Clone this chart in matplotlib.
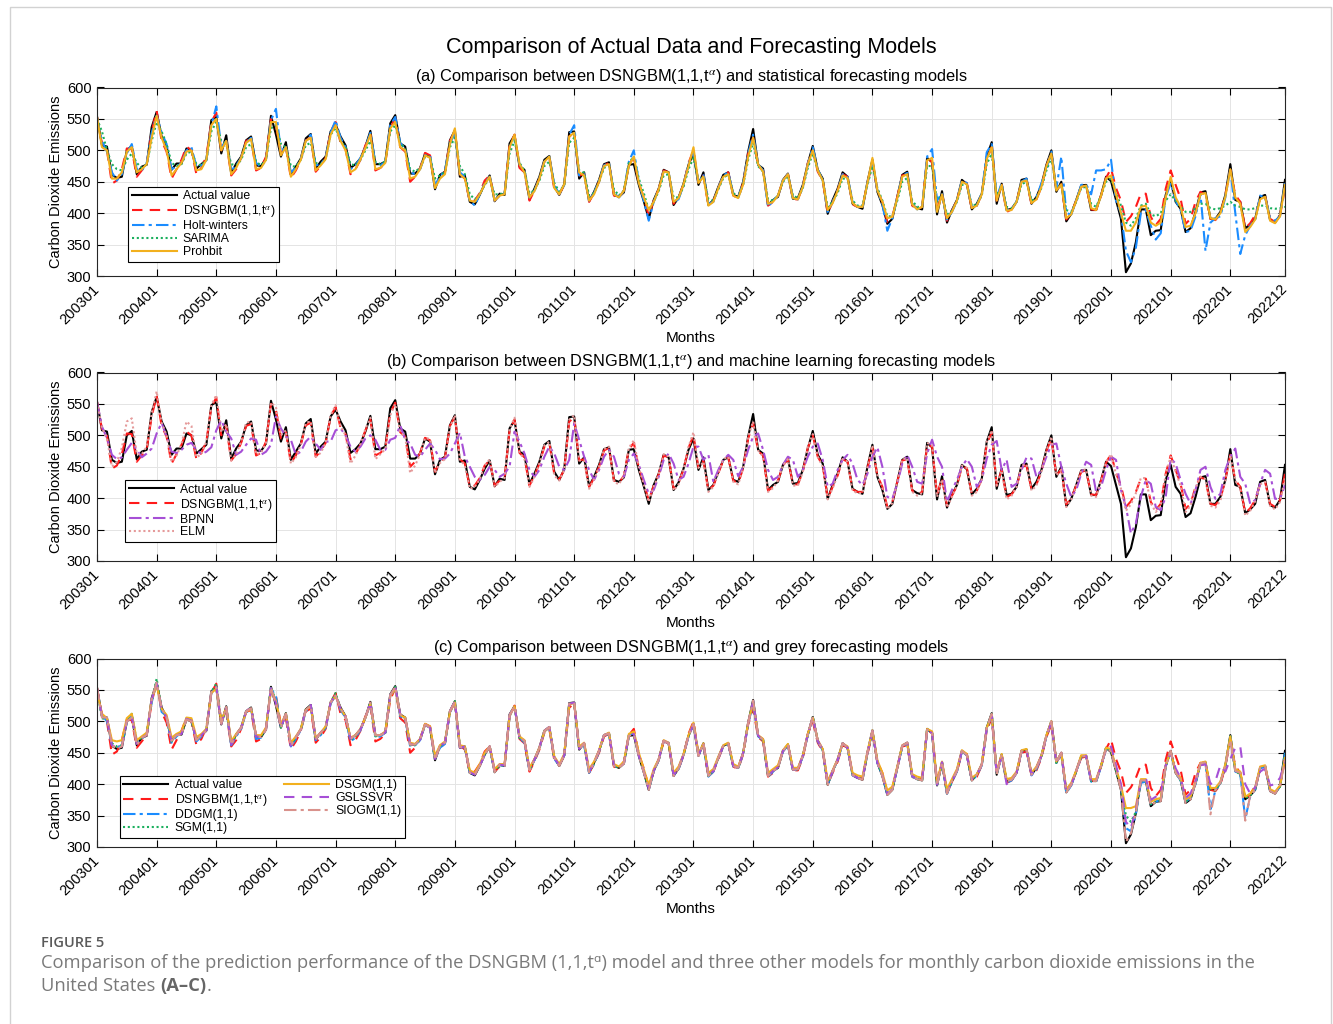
import matplotlib
matplotlib.use("Agg")
import matplotlib.pyplot as plt
from matplotlib.patches import Rectangle
import numpy as np

plt.rcParams['font.family'] = ['Liberation Sans', 'DejaVu Sans']
plt.rcParams['mathtext.fontset'] = 'stix'

# ---------------------------------------------------------------
# monthly CO2 emissions 2003-01 .. 2022-12 (one row per year)

actual = [
    554, 508, 506, 461, 456, 458, 500, 507, 462, 474, 477, 537,
    561, 522, 506, 469, 479, 479, 503, 500, 471, 478, 485, 548,
    553, 495, 524, 463, 479, 490, 516, 522, 476, 475, 487, 555,
    525, 490, 513, 461, 474, 487, 519, 526, 471, 482, 490, 530,
    541, 522, 508, 472, 478, 487, 506, 531, 478, 478, 482, 543,
    556, 511, 506, 463, 463, 471, 495, 490, 438, 461, 466, 516,
    532, 458, 460, 418, 414, 429, 447, 460, 419, 431, 429, 511,
    524, 474, 469, 422, 439, 458, 485, 491, 442, 429, 446, 529,
    530, 455, 465, 419, 434, 453, 478, 481, 429, 426, 433, 477,
    478, 445, 419, 391, 421, 439, 469, 465, 413, 425, 447, 477,
    495, 445, 465, 413, 421, 442, 461, 465, 429, 426, 450, 498,
    534, 477, 471, 413, 421, 426, 453, 463, 423, 424, 445, 479,
    507, 469, 455, 399, 421, 439, 465, 458, 415, 410, 407, 450,
    485, 434, 413, 383, 391, 426, 461, 466, 413, 408, 406, 488,
    481, 398, 435, 385, 405, 421, 453, 446, 406, 415, 431, 490,
    513, 415, 447, 405, 407, 418, 453, 455, 415, 426, 445, 477,
    500, 434, 450, 387, 399, 421, 444, 445, 405, 405, 429, 458,
    451, 421, 391, 306, 320, 354, 406, 406, 365, 372, 373, 429,
    453, 418, 407, 370, 376, 402, 433, 435, 391, 391, 402, 429,
    478, 421, 418, 376, 382, 391, 426, 429, 389, 385, 397, 453,
]

dsngbm = [
    553, 510, 500, 447, 452, 470, 503, 502, 458, 468, 478, 530,
    563, 515, 498, 455, 470, 485, 506, 500, 462, 472, 490, 545,
    560, 500, 515, 460, 470, 488, 515, 518, 468, 472, 490, 550,
    540, 495, 505, 456, 468, 485, 516, 520, 466, 475, 488, 530,
    545, 512, 502, 462, 470, 485, 508, 525, 468, 472, 480, 535,
    552, 505, 498, 450, 458, 472, 496, 492, 442, 458, 465, 515,
    530, 462, 455, 418, 420, 432, 452, 460, 420, 428, 432, 508,
    525, 472, 465, 420, 436, 455, 482, 488, 438, 430, 445, 522,
    528, 460, 462, 418, 432, 450, 476, 480, 428, 424, 436, 478,
    488, 448, 425, 396, 420, 438, 468, 465, 415, 424, 446, 480,
    500, 448, 460, 412, 420, 440, 460, 465, 428, 424, 448, 495,
    520, 475, 468, 412, 418, 428, 452, 462, 422, 422, 442, 480,
    500, 466, 452, 400, 418, 436, 462, 458, 414, 410, 410, 448,
    480, 436, 418, 386, 394, 426, 460, 462, 412, 406, 410, 486,
    482, 405, 432, 388, 404, 420, 450, 448, 406, 412, 430, 486,
    505, 420, 445, 402, 406, 418, 450, 452, 414, 422, 442, 475,
    495, 436, 446, 390, 400, 420, 442, 444, 406, 405, 428, 456,
    471, 440, 420, 386, 395, 410, 431, 431, 394, 381, 391, 439,
    468, 445, 423, 383, 391, 418, 434, 429, 391, 389, 399, 429,
    469, 429, 418, 376, 384, 397, 423, 426, 391, 386, 397, 439,
]

# (a) statistical models
holt_winters = [
    550, 515, 498, 465, 452, 462, 495, 510, 470, 468, 480, 528,
    555, 528, 510, 470, 474, 480, 500, 505, 474, 476, 484, 540,
    570, 505, 515, 468, 476, 488, 512, 520, 480, 474, 484, 548,
    566, 498, 505, 465, 472, 486, 515, 525, 476, 478, 488, 528,
    548, 520, 505, 470, 476, 488, 505, 528, 480, 476, 482, 540,
    553, 512, 502, 465, 462, 470, 492, 492, 445, 458, 468, 510,
    528, 465, 458, 420, 412, 430, 448, 458, 420, 428, 432, 505,
    522, 478, 466, 425, 436, 455, 482, 490, 445, 430, 445, 525,
    540, 460, 462, 420, 432, 452, 476, 480, 432, 425, 435, 482,
    500, 450, 420, 388, 418, 438, 466, 465, 418, 422, 445, 478,
    498, 448, 462, 415, 418, 440, 460, 465, 430, 425, 448, 495,
    525, 478, 468, 410, 420, 428, 452, 462, 425, 422, 442, 478,
    505, 470, 452, 402, 418, 436, 462, 458, 418, 410, 410, 448,
    482, 436, 415, 372, 392, 424, 460, 464, 415, 406, 410, 490,
    502, 420, 432, 390, 402, 420, 452, 448, 410, 412, 432, 497,
    510, 425, 448, 405, 406, 418, 450, 455, 418, 425, 448, 470,
    498, 440, 490, 400, 398, 420, 445, 446, 430, 468, 468, 470,
    485, 420, 400, 340, 322, 345, 400, 405, 380, 358, 368, 425,
    448, 420, 405, 370, 372, 395, 430, 340, 385, 392, 395, 425,
    470, 400, 335, 365, 380, 390, 428, 425, 392, 388, 395, 448,
]

sarima = [
    550, 530, 500, 478, 470, 468, 485, 495, 480, 472, 478, 515,
    545, 530, 510, 480, 475, 478, 495, 498, 478, 476, 485, 530,
    545, 515, 510, 478, 476, 485, 505, 510, 482, 476, 485, 535,
    540, 510, 505, 475, 474, 485, 508, 512, 480, 478, 486, 525,
    535, 515, 505, 478, 476, 485, 500, 515, 482, 478, 482, 530,
    540, 512, 502, 470, 466, 472, 490, 490, 455, 460, 465, 505,
    520, 475, 462, 430, 422, 430, 445, 455, 430, 430, 432, 495,
    515, 480, 468, 432, 436, 452, 475, 482, 448, 434, 445, 512,
    520, 468, 464, 428, 432, 450, 472, 476, 438, 428, 436, 480,
    490, 455, 432, 405, 418, 435, 460, 462, 425, 425, 442, 470,
    488, 452, 458, 422, 420, 438, 456, 462, 432, 426, 445, 485,
    512, 475, 466, 422, 420, 428, 450, 458, 428, 424, 440, 472,
    495, 468, 452, 410, 418, 432, 455, 455, 420, 412, 412, 445,
    475, 440, 420, 395, 395, 420, 450, 456, 420, 410, 410, 475,
    475, 418, 428, 398, 404, 418, 445, 445, 412, 414, 428, 478,
    495, 428, 442, 410, 408, 418, 446, 450, 420, 424, 440, 468,
    488, 440, 445, 405, 402, 418, 440, 442, 415, 410, 428, 450,
    455, 432, 412, 385, 380, 392, 412, 415, 398, 395, 400, 420,
    430, 420, 410, 402, 402, 408, 415, 415, 408, 406, 408, 412,
    418, 412, 410, 406, 406, 408, 412, 412, 408, 407, 408, 410,
]

prohbit = [
    553, 505, 500, 455, 455, 465, 498, 505, 465, 470, 478, 520,
    555, 520, 500, 460, 470, 480, 498, 500, 468, 470, 485, 540,
    550, 500, 515, 462, 472, 488, 512, 518, 470, 472, 485, 545,
    545, 492, 505, 458, 470, 485, 515, 520, 468, 476, 486, 525,
    540, 515, 500, 465, 470, 486, 504, 525, 470, 472, 480, 535,
    545, 505, 500, 455, 458, 470, 492, 488, 440, 455, 462, 510,
    535, 462, 455, 420, 418, 430, 446, 458, 420, 428, 430, 505,
    525, 478, 465, 425, 435, 455, 482, 490, 440, 430, 446, 522,
    528, 465, 460, 420, 430, 450, 475, 478, 430, 425, 436, 475,
    490, 448, 425, 405, 418, 438, 466, 465, 418, 424, 446, 475,
    505, 448, 458, 412, 418, 440, 458, 462, 428, 424, 446, 490,
    520, 478, 466, 415, 418, 428, 452, 462, 424, 422, 442, 478,
    500, 468, 452, 405, 416, 436, 460, 456, 416, 410, 410, 448,
    488, 436, 418, 392, 394, 424, 458, 462, 414, 406, 410, 484,
    488, 402, 430, 392, 402, 420, 450, 446, 408, 412, 430, 486,
    505, 420, 445, 404, 405, 418, 450, 452, 416, 422, 442, 475,
    495, 436, 446, 392, 398, 420, 442, 444, 408, 405, 428, 455,
    460, 430, 400, 372, 372, 385, 410, 412, 385, 380, 385, 425,
    458, 425, 410, 378, 380, 400, 430, 432, 392, 390, 400, 426,
    470, 425, 415, 370, 378, 390, 422, 426, 388, 384, 395, 445,
]

# (b) machine learning models
bpnn = [
    553, 514, 495, 469, 462, 465, 477, 488, 477, 465, 471, 479,
    503, 520, 498, 474, 472, 477, 485, 488, 477, 470, 474, 481,
    508, 524, 506, 495, 469, 474, 485, 495, 493, 469, 474, 485,
    530, 511, 498, 493, 469, 474, 490, 498, 487, 477, 490, 490,
    508, 511, 500, 482, 474, 482, 495, 500, 493, 477, 477, 493,
    496, 516, 493, 487, 469, 466, 477, 487, 477, 462, 463, 471,
    487, 504, 466, 450, 434, 429, 437, 450, 445, 434, 439, 450,
    506, 490, 471, 445, 434, 445, 466, 482, 471, 450, 445, 461,
    519, 493, 466, 445, 429, 445, 466, 477, 466, 439, 434, 461,
    471, 453, 429, 407, 413, 434, 461, 471, 455, 429, 434, 455,
    482, 482, 461, 469, 426, 445, 461, 469, 461, 435, 450, 477,
    498, 503, 477, 445, 429, 434, 453, 466, 461, 434, 445, 466,
    482, 487, 461, 418, 423, 445, 461, 469, 455, 429, 421, 439,
    466, 481, 450, 402, 399, 423, 455, 469, 450, 426, 423, 471,
    493, 466, 450, 394, 413, 429, 450, 462, 450, 418, 429, 463,
    485, 491, 445, 461, 418, 423, 445, 465, 463, 434, 445, 466,
    485, 487, 450, 423, 402, 413, 439, 458, 453, 410, 418, 445,
    466, 461, 413, 386, 344, 360, 402, 429, 423, 386, 381, 402,
    463, 455, 429, 407, 391, 413, 445, 450, 418, 399, 407, 445,
    466, 479, 434, 423, 391, 397, 423, 445, 439, 399, 399, 421,
]

elm = [
    553, 512, 495, 450, 458, 480, 522, 527, 470, 470, 482, 535,
    570, 520, 500, 458, 468, 486, 522, 515, 465, 470, 490, 548,
    564, 505, 518, 460, 470, 490, 520, 522, 470, 472, 488, 552,
    545, 500, 508, 455, 465, 485, 520, 522, 466, 472, 488, 532,
    548, 515, 500, 455, 468, 486, 510, 528, 462, 470, 478, 532,
    550, 505, 498, 440, 452, 470, 496, 494, 440, 456, 462, 512,
    532, 462, 452, 415, 418, 430, 452, 462, 418, 426, 432, 510,
    528, 472, 462, 418, 434, 455, 484, 490, 436, 428, 445, 525,
    532, 460, 460, 415, 430, 450, 478, 482, 426, 422, 436, 480,
    492, 448, 422, 394, 418, 438, 470, 466, 412, 422, 446, 482,
    505, 448, 458, 410, 418, 440, 462, 466, 426, 422, 448, 498,
    522, 476, 466, 410, 416, 428, 452, 462, 420, 420, 442, 482,
    502, 466, 450, 398, 416, 436, 462, 458, 412, 408, 408, 450,
    484, 436, 416, 382, 392, 426, 462, 464, 410, 404, 408, 488,
    484, 402, 430, 385, 402, 420, 452, 448, 404, 410, 430, 490,
    508, 420, 444, 398, 404, 418, 452, 454, 412, 420, 442, 476,
    498, 436, 445, 386, 398, 420, 444, 446, 404, 402, 428, 458,
    470, 438, 415, 380, 390, 408, 432, 432, 392, 378, 388, 438,
    466, 442, 420, 378, 388, 416, 434, 430, 388, 385, 396, 428,
    468, 428, 415, 372, 380, 395, 422, 426, 388, 382, 394, 432,
]

# (c) grey models
ddgm = [
    550, 510, 500, 462, 458, 462, 498, 510, 466, 472, 480, 530,
    562, 515, 508, 466, 476, 482, 505, 502, 468, 476, 488, 545,
    555, 500, 520, 462, 476, 488, 514, 520, 472, 474, 488, 552,
    540, 492, 510, 460, 472, 486, 516, 524, 470, 478, 490, 528,
    542, 518, 506, 468, 474, 486, 506, 528, 474, 476, 482, 540,
    552, 508, 504, 460, 462, 470, 494, 490, 440, 458, 464, 514,
    530, 460, 458, 418, 416, 430, 448, 458, 420, 430, 430, 508,
    524, 474, 466, 422, 438, 456, 484, 490, 440, 430, 446, 526,
    530, 458, 462, 418, 432, 452, 478, 480, 430, 426, 434, 478,
    482, 446, 420, 392, 420, 438, 468, 466, 414, 424, 446, 476,
    496, 446, 462, 412, 420, 442, 460, 465, 428, 426, 448, 496,
    528, 476, 470, 412, 420, 428, 452, 462, 422, 424, 444, 478,
    506, 468, 454, 400, 420, 438, 464, 458, 414, 410, 408, 450,
    486, 434, 414, 384, 392, 425, 460, 465, 412, 408, 408, 486,
    482, 400, 434, 385, 404, 420, 452, 446, 406, 414, 430, 488,
    510, 416, 446, 402, 406, 418, 452, 454, 414, 424, 444, 476,
    498, 434, 448, 386, 398, 420, 444, 444, 404, 404, 428, 456,
    455, 424, 395, 330, 325, 352, 402, 404, 368, 372, 375, 428,
    452, 418, 406, 372, 378, 400, 432, 434, 360, 390, 402, 430,
    476, 420, 416, 345, 380, 392, 425, 428, 390, 386, 396, 450,
]

sgm = [
    550, 505, 502, 465, 460, 462, 500, 512, 468, 474, 480, 533,
    568, 520, 505, 468, 478, 480, 504, 502, 470, 478, 486, 547,
    560, 498, 522, 464, 478, 490, 516, 522, 476, 476, 488, 555,
    532, 490, 512, 462, 474, 488, 518, 526, 472, 480, 490, 530,
    545, 520, 508, 470, 476, 488, 506, 530, 476, 478, 482, 542,
    555, 510, 505, 462, 462, 472, 495, 490, 440, 460, 466, 516,
    532, 460, 460, 418, 416, 430, 448, 460, 420, 430, 430, 510,
    524, 474, 468, 422, 438, 458, 485, 490, 442, 430, 446, 528,
    530, 456, 464, 419, 433, 452, 478, 481, 430, 426, 433, 478,
    480, 446, 420, 392, 421, 439, 469, 465, 414, 425, 447, 477,
    496, 446, 464, 413, 421, 442, 461, 465, 429, 426, 450, 498,
    532, 477, 470, 413, 421, 427, 453, 463, 423, 424, 445, 479,
    507, 469, 455, 400, 421, 439, 465, 458, 415, 410, 408, 450,
    485, 434, 414, 384, 392, 426, 461, 466, 413, 408, 406, 488,
    482, 399, 435, 386, 405, 421, 453, 446, 406, 415, 431, 490,
    512, 416, 447, 405, 407, 418, 453, 455, 415, 426, 445, 477,
    500, 434, 450, 388, 399, 421, 444, 445, 405, 405, 429, 458,
    453, 422, 393, 350, 340, 356, 404, 406, 368, 372, 375, 428,
    452, 418, 406, 372, 378, 402, 432, 434, 392, 390, 402, 430,
    476, 420, 416, 378, 382, 392, 426, 428, 390, 386, 396, 448,
]

dsgm = [
    548, 512, 505, 470, 468, 470, 505, 512, 470, 476, 482, 535,
    558, 520, 510, 474, 480, 484, 506, 505, 475, 480, 488, 545,
    552, 500, 522, 468, 480, 490, 515, 520, 478, 478, 490, 550,
    532, 495, 512, 466, 476, 488, 518, 524, 474, 482, 492, 530,
    540, 520, 508, 474, 478, 488, 506, 528, 478, 478, 484, 540,
    552, 510, 506, 466, 464, 472, 496, 492, 445, 462, 468, 515,
    530, 462, 460, 422, 418, 432, 450, 460, 424, 432, 432, 508,
    524, 476, 470, 426, 440, 458, 484, 490, 444, 432, 448, 526,
    530, 460, 466, 424, 436, 454, 478, 482, 432, 428, 436, 480,
    484, 450, 424, 398, 424, 440, 470, 466, 418, 428, 448, 478,
    498, 448, 465, 418, 424, 444, 462, 466, 432, 428, 450, 498,
    530, 478, 472, 418, 424, 430, 454, 464, 426, 426, 446, 480,
    506, 470, 456, 405, 422, 440, 465, 460, 418, 414, 412, 452,
    486, 438, 418, 390, 396, 428, 462, 466, 416, 412, 410, 488,
    484, 404, 436, 392, 408, 424, 454, 448, 410, 416, 432, 490,
    510, 420, 448, 408, 410, 420, 454, 456, 418, 428, 446, 478,
    500, 436, 450, 392, 402, 422, 446, 446, 408, 408, 430, 458,
    456, 426, 398, 362, 362, 365, 408, 408, 372, 376, 378, 430,
    452, 420, 410, 376, 380, 404, 434, 436, 394, 394, 404, 432,
    476, 424, 420, 380, 385, 395, 428, 430, 392, 388, 398, 442,
]

gslssvr = [
    552, 508, 505, 462, 458, 460, 500, 508, 464, 474, 478, 535,
    560, 520, 506, 468, 478, 480, 504, 501, 470, 478, 486, 546,
    555, 496, 522, 463, 478, 490, 516, 522, 476, 475, 487, 553,
    528, 490, 512, 461, 474, 487, 519, 526, 472, 482, 490, 530,
    541, 520, 508, 472, 478, 487, 506, 530, 478, 478, 482, 542,
    555, 511, 506, 463, 464, 471, 495, 490, 440, 461, 466, 516,
    532, 458, 460, 419, 415, 429, 447, 460, 420, 431, 430, 510,
    524, 474, 469, 423, 439, 458, 485, 491, 442, 430, 446, 528,
    530, 456, 465, 420, 434, 453, 478, 481, 430, 426, 433, 478,
    480, 445, 420, 392, 421, 439, 469, 465, 414, 425, 447, 477,
    495, 446, 465, 414, 421, 442, 461, 465, 429, 426, 450, 497,
    532, 477, 471, 414, 421, 427, 453, 463, 423, 424, 445, 479,
    507, 469, 455, 400, 421, 439, 465, 458, 415, 410, 408, 450,
    485, 434, 414, 384, 392, 426, 461, 466, 413, 408, 407, 487,
    481, 399, 435, 386, 405, 421, 453, 446, 407, 415, 431, 489,
    510, 416, 447, 400, 407, 418, 453, 455, 415, 426, 445, 477,
    498, 434, 450, 388, 399, 421, 444, 445, 405, 406, 429, 456,
    460, 430, 400, 340, 330, 360, 405, 410, 375, 380, 385, 430,
    450, 425, 410, 378, 385, 405, 430, 432, 400, 405, 430, 420,
    440, 458, 460, 400, 385, 395, 420, 425, 398, 400, 410, 435,
]

siogm = [
    554, 506, 506, 462, 456, 460, 500, 506, 462, 474, 478, 535,
    562, 520, 506, 469, 478, 479, 503, 500, 470, 478, 485, 547,
    554, 496, 523, 463, 478, 490, 516, 521, 476, 475, 487, 554,
    527, 490, 512, 461, 474, 487, 518, 525, 471, 482, 490, 530,
    541, 521, 508, 472, 478, 487, 506, 530, 478, 478, 482, 542,
    555, 511, 506, 463, 463, 471, 495, 490, 439, 461, 466, 516,
    531, 459, 460, 418, 415, 429, 447, 460, 419, 431, 429, 510,
    524, 474, 469, 422, 439, 458, 485, 491, 442, 429, 446, 528,
    530, 456, 465, 419, 434, 453, 478, 481, 429, 426, 433, 477,
    479, 445, 419, 391, 421, 439, 469, 465, 413, 425, 447, 477,
    495, 445, 465, 413, 421, 442, 461, 465, 429, 426, 450, 497,
    533, 477, 471, 413, 421, 426, 453, 463, 423, 424, 445, 479,
    507, 469, 455, 399, 421, 439, 465, 458, 415, 410, 407, 450,
    485, 434, 413, 383, 391, 426, 461, 466, 413, 408, 406, 487,
    481, 398, 435, 385, 405, 421, 453, 446, 406, 415, 431, 489,
    512, 415, 447, 405, 407, 418, 453, 455, 415, 426, 445, 477,
    500, 434, 450, 387, 399, 421, 444, 445, 405, 405, 429, 457,
    452, 421, 391, 308, 322, 354, 406, 406, 366, 372, 373, 429,
    453, 418, 407, 370, 376, 402, 433, 435, 352, 391, 402, 429,
    470, 421, 418, 342, 382, 391, 426, 429, 389, 385, 397, 440,
]

tick_pos = list(range(0, 240, 12)) + [239]
tick_labels = ['%d01' % y for y in range(2003, 2023)] + ['202212']

alpha_txt = r'DSNGBM(1,1,t$^{\alpha}$)'
titles = [
    '(a) Comparison between ' + alpha_txt + ' and statistical forecasting models',
    '(b) Comparison between ' + alpha_txt + ' and machine learning forecasting models',
    '(c) Comparison between ' + alpha_txt + ' and grey forecasting models',
]

# ---------------------------------------------------------------

x = np.arange(len(actual))

fig = plt.figure(figsize=(13.33, 10.24), dpi=100)

# thin frame round the whole figure
top = 1 - 7 / 1024
fig.patches.append(Rectangle((10 / 1333, -0.01), 1321 / 1333, top + 0.01,
                             transform=fig.transFigure, fill=False,
                             edgecolor='#d2d2d2', lw=1.0))

fig.text(0.5184, 1 - 47 / 1024, 'Comparison of Actual Data and Forecasting Models',
         ha='center', va='center', fontsize=15.5)

left = 97 / 1333
width = 1188 / 1333
height = 188.5 / 1024
bottoms = [1 - 276 / 1024, 1 - 561 / 1024, 1 - 847 / 1024]
axes = [fig.add_axes([left, b, width, height]) for b in bottoms]

RED = '#ff1a1a'
BLUE = '#1a8cff'
GREEN = '#1aaf5d'
ORANGE = '#f2b01e'
PURPLE = '#a64fd6'
PINK = '#e59a9a'
PINK2 = '#d9928c'

lw = 1.5
dash = (0, (5, 3.5))
dashdot = (0, (6, 2, 1.5, 2))
dot = (0, (1, 1.3))

ax = axes[0]
ax.plot(x, actual, color='black', lw=lw, label='Actual value')
ax.plot(x, dsngbm, color=RED, lw=lw, ls=dash, label=alpha_txt)
ax.plot(x, holt_winters, color=BLUE, lw=lw, ls=dashdot, label='Holt-winters')
ax.plot(x, sarima, color=GREEN, lw=lw, ls=dot, label='SARIMA')
ax.plot(x, prohbit, color=ORANGE, lw=lw, label='Prohbit')

ax = axes[1]
ax.plot(x, actual, color='black', lw=lw, label='Actual value')
ax.plot(x, dsngbm, color=RED, lw=lw, ls=dash, label=alpha_txt)
ax.plot(x, bpnn, color=PURPLE, lw=lw, ls=dashdot, label='BPNN')
ax.plot(x, elm, color=PINK, lw=lw, ls=dot, label='ELM')

ax = axes[2]
ax.plot(x, actual, color='black', lw=lw, label='Actual value')
ax.plot(x, dsngbm, color=RED, lw=lw, ls=dash, label=alpha_txt)
ax.plot(x, ddgm, color=BLUE, lw=lw, ls=dashdot, label='DDGM(1,1)')
ax.plot(x, sgm, color=GREEN, lw=lw, ls=dot, label='SGM(1,1)')
ax.plot(x, dsgm, color=ORANGE, lw=lw, label='DSGM(1,1)')
ax.plot(x, gslssvr, color=PURPLE, lw=lw, ls=dash, label='GSLSSVR')
ax.plot(x, siogm, color=PINK2, lw=lw, ls=dashdot, label='SIOGM(1,1)')

legend_anchor = [(0.026, 0.074), (0.0236, 0.10), (0.019, 0.048)]
legend_cols = [1, 1, 2]

for ax, t, anc, nc in zip(axes, titles, legend_anchor, legend_cols):
    ax.set_xlim(0, 239)
    ax.set_ylim(300, 600)
    ax.set_yticks(np.arange(300, 601, 50))
    ax.set_xticks(tick_pos)
    ax.set_xticklabels(tick_labels, rotation=45, ha='right', va='center',
                       rotation_mode='anchor')
    ax.tick_params(direction='in', length=5, width=0.8, top=True, right=True,
                   labelsize=10.5, pad=4)
    ax.tick_params(axis='x', pad=8)
    ax.grid(True, color='#e4e4e4', lw=0.7)
    ax.set_axisbelow(True)
    for s in ax.spines.values():
        s.set_linewidth(0.8)
        s.set_color('#262626')
    ax.set_title(t, fontsize=11.8, pad=5)
    ax.set_xlabel('Months', fontsize=11, labelpad=3)
    ax.set_ylabel('Carbon Dioxide Emissions', fontsize=10.5, labelpad=3)
    leg = ax.legend(loc='lower left', bbox_to_anchor=anc, borderaxespad=0,
                    ncol=nc, fontsize=8.8, handlelength=3.7, labelspacing=0.08,
                    borderpad=0.3, handletextpad=0.5, columnspacing=1.4,
                    fancybox=False, edgecolor='black', framealpha=1)
    leg.get_frame().set_linewidth(0.8)

# caption under the figure
cap_font = ['Open Sans', 'DejaVu Sans']
fig.text(41 / 1333, 1 - 943 / 1024, 'FIGURE 5', fontsize=10.5, color='#5a5a5a',
         family=cap_font, weight='semibold', va='center')
fig.text(41 / 1333, 1 - 963 / 1024,
         'Comparison of the prediction performance of the DSNGBM (1,1,t\u1d45) model and three '
         'other models for monthly carbon dioxide emissions in the',
         fontsize=13.2, color='#7a7a7a', family=cap_font, va='center')
t2 = fig.text(41 / 1333, 1 - 986 / 1024, 'United States ', fontsize=13.2,
              color='#7a7a7a', family=cap_font, va='center')
fig.canvas.draw()
bb = t2.get_window_extent().transformed(fig.transFigure.inverted())
t3 = fig.text(bb.x1, 1 - 986 / 1024, '(A\u2013C)', fontsize=13.2, color='#666666',
              family=cap_font, weight='bold', va='center')
fig.canvas.draw()
bb3 = t3.get_window_extent().transformed(fig.transFigure.inverted())
fig.text(bb3.x1, 1 - 986 / 1024, '.', fontsize=13.2, color='#7a7a7a',
         family=cap_font, va='center')

fig.savefig('out.png', dpi=100)
